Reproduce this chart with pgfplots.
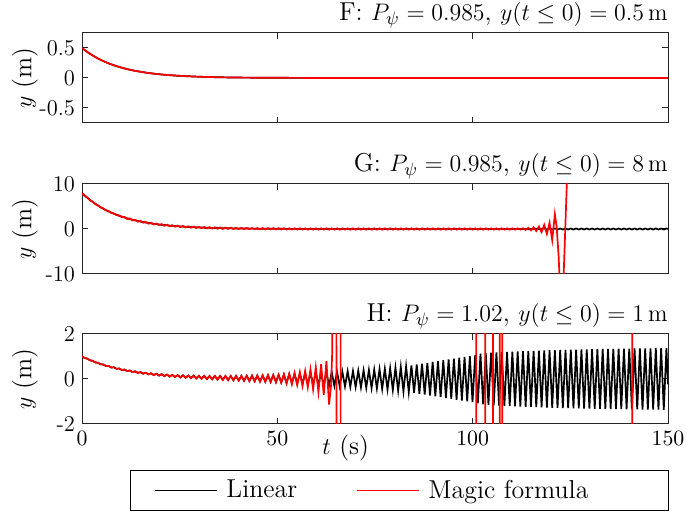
\documentclass[border=0pt]{standalone}
\usepackage{pgfplots}
\pgfplotsset{compat=1.18}
\definecolor{axgray}{RGB}{38,38,38}
\pgfplotsset{
  myax/.style={
    scale only axis, width=293bp, height=45bp,
    xmin=0, xmax=150, xtick={0,50,100,150},
    tick align=inside, tick pos=both,
    major tick length=3bp,
    axis line style={draw=axgray, line width=0.5bp},
    every tick/.style={draw=axgray, line width=0.5bp},
    font=\fontsize{13}{15}\selectfont,
    tick label style={font=\fontsize{11.3}{13}\selectfont},
    every axis title/.style={at={(axis description cs:1,1)}, anchor=south east, inner sep=0pt, yshift=2.1bp},
    ylabel={$y$ (m)},
    ylabel style={at={(axis description cs:-0.0973,0.5)}, anchor=center},
    unbounded coords=jump,
    every axis plot/.append style={line width=0.85bp},
  },
}
\begin{document}
\begin{tikzpicture}
\useasboundingbox (0,0) rectangle (343bp,257bp);
% ---------------- F ----------------
\begin{axis}[myax, at={(41bp,195.5bp)}, anchor=south west,
  ymin=-0.75, ymax=0.75, ytick={-0.5,0,0.5}, yticklabels={-0.5,0,0.5}, xticklabels={},
  title={F: $P_\psi = 0.985$, $y(t \leq 0) = 0.5\,\mathrm{m}$}]
\addplot[black] coordinates {(0,0.5)(1.36,0.433)(2.72,0.376)(4.08,0.325)(5.44,0.282)(6.80,0.244)(8.16,0.212)(9.52,0.184)(10.88,0.159)(12.24,0.138)(13.60,0.119)(14.96,0.104)(16.32,0.090)(17.68,0.078)(19.04,0.067)(20.40,0.058)(21.76,0.051)(23.12,0.044)(24.48,0.038)(25.84,0.033)(27.20,0.029)(28.56,0.025)(29.92,0.021)(32,0.017)(35,0.012)(40,0.007)(50,0.003)(60,0.001)(70,0)(150,0)};
\addplot[red] coordinates {(0,0.5)(1.36,0.433)(2.72,0.376)(4.08,0.325)(5.44,0.282)(6.80,0.244)(8.16,0.212)(9.52,0.184)(10.88,0.159)(12.24,0.138)(13.60,0.119)(14.96,0.104)(16.32,0.090)(17.68,0.078)(19.04,0.067)(20.40,0.058)(21.76,0.051)(23.12,0.044)(24.48,0.038)(25.84,0.033)(27.20,0.029)(28.56,0.025)(29.92,0.021)(32,0.017)(35,0.012)(40,0.007)(50,0.003)(60,0.001)(70,0)(150,0)};
\end{axis}
% ---------------- G ----------------
\begin{axis}[myax, at={(41bp,120bp)}, anchor=south west,
  ymin=-10, ymax=10, ytick={-10,0,10}, yticklabels={-10,0,10}, xticklabels={},
  title={G: $P_\psi = 0.985$, $y(t \leq 0) = 8\,\mathrm{m}$}]
\addplot[black] coordinates {(0,8.000)(1.36,6.933)(2.72,6.008)(4.08,5.207)(5.44,4.512)(6.80,3.910)(8.16,3.389)(9.52,2.937)(10.88,2.545)(12.24,2.206)(13.60,1.911)(14.96,1.656)(16.32,1.435)(17.68,1.244)(19.04,1.078)(20.40,0.934)(21.76,0.810)(23.12,0.701)(24.48,0.608)(25.84,0.527)(27.20,0.456)(28.56,0.395)(29.92,0.343)(31.28,0.297)(32.64,0.257)(34.00,0.223)(35.36,0.193)(36.72,0.167)(38.08,0.145)(39.44,0.126)(40.80,0.109)(42.16,0.094)(43.52,0.082)(44.88,0.071)(46.24,0.061)(47.60,0.053)(50,0.04)(55,0.02)(60,0.01)(70,0)(117.64,0)
(118.32,0.12)(119.00,-0.12)(119.68,0.12)(120.36,-0.12)(121.04,0.12)(121.72,-0.12)(122.40,0.12)(123.08,-0.12)(123.76,0.12)(124.44,-0.12)(125.12,0.12)(125.80,-0.12)(126.48,0.12)(127.16,-0.12)(127.84,0.12)(128.52,-0.12)(129.20,0.12)(129.88,-0.12)(130.56,0.12)(131.24,-0.12)(131.92,0.12)(132.60,-0.12)(133.28,0.12)(133.96,-0.12)(134.64,0.12)(135.32,-0.12)(136.00,0.12)(136.68,-0.12)(137.36,0.12)(138.04,-0.12)(138.72,0.12)(139.40,-0.12)(140.08,0.12)(140.76,-0.12)(141.44,0.12)(142.12,-0.12)(142.80,0.12)(143.48,-0.12)(144.16,0.12)(144.84,-0.12)(145.52,0.12)(146.20,-0.12)(146.88,0.12)(147.56,-0.12)(148.24,0.12)(148.92,-0.12)(149.60,0.12)(150,0)};
\addplot[red] coordinates {(0,8.000)(0.68,7.367)(1.36,7.013)(2.04,6.374)(2.72,6.088)(3.40,5.513)(4.08,5.287)(4.76,4.767)(5.44,4.592)(6.12,4.121)(6.80,3.990)(7.48,3.560)(8.16,3.469)(8.84,3.075)(9.52,3.017)(10.20,2.654)(10.88,2.695)(11.56,2.219)(12.24,2.356)(12.92,1.903)(13.60,2.061)(14.28,1.629)(14.96,1.806)(15.64,1.392)(16.32,1.585)(17.00,1.186)(17.68,1.394)(18.36,1.008)(19.04,1.228)(19.72,0.853)(20.40,1.084)(21.08,0.720)(21.76,0.960)(22.44,0.604)(23.12,0.851)(23.80,0.503)(24.48,0.758)(25.16,0.416)(25.84,0.677)(26.52,0.340)(27.20,0.606)(27.88,0.275)(28.56,0.545)(29.24,0.218)(29.92,0.493)(30.60,0.169)(31.28,0.447)(31.96,0.126)(32.64,0.407)(33.32,0.090)(34.00,0.373)(34.68,0.058)(35.36,0.343)(36.04,0.030)(36.72,0.317)(37.40,0.006)(38.08,0.295)(38.76,-0.015)(39.44,0.276)(40.12,-0.033)(40.80,0.259)(41.48,-0.049)(42.16,0.244)(42.84,-0.062)(43.52,0.232)(44.20,-0.074)(44.88,0.221)(45.56,-0.084)(46.24,0.211)(46.92,-0.093)(47.60,0.203)(48.28,-0.10)(48.96,0.19)(49.64,-0.11)(50.32,0.18)(51.00,-0.12)(51.68,0.175)(52.36,-0.125)(53.04,0.17)(53.72,-0.13)(54.40,0.165)(55.08,-0.135)(55.76,0.16)(56.44,-0.14)(57.12,0.16)
(57.80,-0.15)(58.48,0.15)(59.16,-0.15)(59.84,0.15)(60.52,-0.15)(61.20,0.15)(61.88,-0.15)(62.56,0.15)(63.24,-0.15)(63.92,0.15)(64.60,-0.15)(65.28,0.15)(65.96,-0.15)(66.64,0.15)(67.32,-0.15)(68.00,0.15)(68.68,-0.15)(69.36,0.15)(70.04,-0.15)(70.72,0.15)(71.40,-0.15)(72.08,0.15)(72.76,-0.15)(73.44,0.15)(74.12,-0.15)(74.80,0.15)(75.48,-0.15)(76.16,0.15)(76.84,-0.15)(77.52,0.15)(78.20,-0.15)(78.88,0.15)(79.56,-0.15)(80.24,0.15)(80.92,-0.15)(81.60,0.15)(82.28,-0.15)(82.96,0.15)(83.64,-0.15)(84.32,0.15)(85.00,-0.15)(85.68,0.15)(86.36,-0.15)(87.04,0.15)(87.72,-0.15)(88.40,0.15)(89.08,-0.15)(89.76,0.15)(90.44,-0.15)(91.12,0.15)(91.80,-0.15)(92.48,0.15)(93.16,-0.15)(93.84,0.15)(94.52,-0.15)(95.20,0.15)(95.88,-0.15)(96.56,0.15)(97.24,-0.15)(97.92,0.15)(98.60,-0.15)(99.28,0.15)(99.96,-0.15)(100.64,0.15)(101.32,-0.15)(102.00,0.15)(102.68,-0.15)(103.36,0.15)(104.04,-0.15)(104.72,0.15)(105.40,-0.15)(106.08,0.15)(106.76,-0.15)(107.44,0.15)(108.12,-0.15)(108.80,0.15)(109.48,-0.15)(110.16,0.15)(110.84,-0.15)(111.52,0.15)(112.20,-0.15)
(112.88,0.17)(113.56,-0.20)(114.24,0.25)(114.92,-0.30)(115.60,0.37)(116.28,-0.45)(116.96,0.55)(117.64,-0.70)(118.32,0.90)(119.00,-1.10)(119.68,1.40)(120.36,-2.50)(121.04,3.30)(121.5,0.5)(122.0,-6)(122.4,-14)(122.9,-16)(123.3,-10)(124.1,10)(124.5,18)};
\end{axis}
% ---------------- H ----------------
\begin{axis}[myax, at={(41bp,45bp)}, anchor=south west,
  ymin=-2, ymax=2, ytick={-2,0,2}, yticklabels={-2,0,2},
  xlabel={$t$ (s)},
  xlabel style={at={(axis description cs:0.45,-0.267)}, anchor=center},
  title={H: $P_\psi = 1.02$, $y(t \leq 0) = 1\,\mathrm{m}$},
  legend style={at={(axis description cs:0.0819,-0.511)}, anchor=north west, draw=black, line width=0.5bp,
    inner xsep=0pt, inner ysep=4.7bp, nodes={inner sep=0pt}, column sep=0pt, legend columns=2,
    font=\fontsize{13}{15}\selectfont},
  legend image code/.code={\path[draw=none,fill=none] (0bp,-3bp) rectangle (48bp,3bp); \draw[#1, line width=0.85bp] (12.5bp,0bp) -- (43.5bp,0bp);}]
\addplot[black] coordinates {(0,1.000)(0.68,0.933)(1.36,0.901)(2.04,0.828)(2.72,0.806)(3.40,0.735)(4.08,0.720)(4.76,0.651)(5.44,0.643)(6.12,0.577)(6.80,0.576)(7.48,0.511)(8.16,0.516)(8.84,0.451)(9.52,0.463)(10.20,0.398)(10.88,0.416)(11.56,0.350)(12.24,0.374)(12.92,0.307)(13.60,0.338)(14.28,0.269)(14.96,0.305)(15.64,0.235)(16.32,0.277)(17.00,0.204)(17.68,0.253)(18.36,0.175)(19.04,0.230)(19.72,0.150)(20.40,0.211)(21.08,0.127)(21.76,0.195)(22.44,0.106)(23.12,0.182)(23.80,0.086)(24.48,0.169)(25.16,0.068)(25.84,0.160)(26.52,0.053)(27.20,0.151)(27.88,0.037)(28.56,0.143)(29.24,0.024)(29.92,0.138)(30.60,0.011)(31.28,0.134)(31.96,-0.003)(32.64,0.132)(33.32,-0.015)(34.00,0.131)(34.68,-0.027)(35.36,0.130)(36.04,-0.038)(36.72,0.130)(37.40,-0.049)(38.08,0.131)(38.76,-0.059)(39.44,0.132)(40.12,-0.069)(40.80,0.136)(41.48,-0.080)(42.16,0.140)(42.84,-0.091)(43.52,0.145)(44.20,-0.102)(44.88,0.151)(45.56,-0.113)(46.24,0.156)(46.92,-0.124)(47.60,0.163)(48.28,-0.134)(48.96,0.169)(49.64,-0.144)
(50.32,0.178)(51.00,-0.158)(51.68,0.190)(52.36,-0.175)(53.04,0.204)(53.72,-0.191)(54.40,0.218)(55.08,-0.207)(55.76,0.231)(56.44,-0.223)(57.12,0.245)(57.80,-0.239)(58.48,0.260)(59.16,-0.255)(59.84,0.274)(60.52,-0.275)(61.20,0.281)(61.88,-0.287)(62.56,0.293)(63.24,-0.299)(63.92,0.305)(64.60,-0.311)(65.28,0.318)(65.96,-0.324)(66.64,0.330)(67.32,-0.336)(68.00,0.342)(68.68,-0.348)(69.36,0.354)(70.04,-0.360)(70.72,0.368)(71.40,-0.376)(72.08,0.384)(72.76,-0.392)(73.44,0.400)(74.12,-0.408)(74.80,0.416)(75.48,-0.424)(76.16,0.433)(76.84,-0.445)(77.52,0.457)(78.20,-0.468)(78.88,0.480)(79.56,-0.492)(80.24,0.506)(80.92,-0.522)(81.60,0.538)(82.28,-0.555)(82.96,0.571)(83.64,-0.587)(84.32,0.604)(85.00,-0.620)(85.68,0.639)(86.36,-0.658)(87.04,0.677)(87.72,-0.696)(88.40,0.715)(89.08,-0.734)(89.76,0.753)(90.44,-0.772)(91.12,0.791)(91.80,-0.810)(92.48,0.829)(93.16,-0.848)(93.84,0.868)(94.52,-0.887)(95.20,0.905)(95.88,-0.923)(96.56,0.941)(97.24,-0.958)(97.92,0.976)(98.60,-0.994)(99.28,1.011)(99.96,-1.029)
(100.64,1.059)(101.32,-1.089)(102.00,1.120)(102.68,-1.131)(103.36,1.143)(104.04,-1.154)(104.72,1.165)(105.40,-1.173)(106.08,1.179)(106.76,-1.184)(107.44,1.190)(108.12,-1.195)(108.80,1.200)(109.48,-1.206)(110.16,1.211)(110.84,-1.216)(111.52,1.221)(112.20,-1.225)(112.88,1.230)(113.56,-1.235)(114.24,1.240)(114.92,-1.244)(115.60,1.249)(116.28,-1.254)(116.96,1.259)(117.64,-1.263)(118.32,1.268)(119.00,-1.273)(119.68,1.278)(120.36,-1.281)(121.04,1.284)(121.72,-1.287)(122.40,1.290)(123.08,-1.292)(123.76,1.295)(124.44,-1.298)(125.12,1.300)(125.80,-1.303)(126.48,1.306)(127.16,-1.309)(127.84,1.311)(128.52,-1.314)(129.20,1.317)(129.88,-1.320)(130.56,1.322)(131.24,-1.324)(131.92,1.326)(132.60,-1.328)(133.28,1.330)(133.96,-1.332)(134.64,1.334)(135.32,-1.336)(136.00,1.338)(136.68,-1.340)(137.36,1.342)(138.04,-1.344)(138.72,1.346)(139.40,-1.348)(140.08,1.350)(140.76,-1.352)(141.44,1.353)(142.12,-1.354)(142.80,1.356)(143.48,-1.357)(144.16,1.358)(144.84,-1.360)(145.52,1.361)(146.20,-1.362)(146.88,1.364)(147.56,-1.365)(148.24,1.366)(148.92,-1.368)(149.60,1.369)(150.00,-0.24)};
\addlegendentry{\makebox[53bp][l]{Linear}}
\addplot[red] coordinates {(0,1.000)(0.68,0.933)(1.36,0.901)(2.04,0.828)(2.72,0.806)(3.40,0.735)(4.08,0.720)(4.76,0.651)(5.44,0.643)(6.12,0.577)(6.80,0.576)(7.48,0.511)(8.16,0.516)(8.84,0.451)(9.52,0.463)(10.20,0.398)(10.88,0.416)(11.56,0.350)(12.24,0.374)(12.92,0.307)(13.60,0.338)(14.28,0.269)(14.96,0.305)(15.64,0.235)(16.32,0.277)(17.00,0.204)(17.68,0.253)(18.36,0.175)(19.04,0.230)(19.72,0.150)(20.40,0.211)(21.08,0.127)(21.76,0.195)(22.44,0.106)(23.12,0.182)(23.80,0.086)(24.48,0.169)(25.16,0.068)(25.84,0.160)(26.52,0.053)(27.20,0.151)(27.88,0.037)(28.56,0.143)(29.24,0.024)(29.92,0.138)(30.60,0.011)(31.28,0.134)(31.96,-0.003)(32.64,0.132)(33.32,-0.015)(34.00,0.131)(34.68,-0.027)(35.36,0.130)(36.04,-0.038)(36.72,0.130)(37.40,-0.049)(38.08,0.131)(38.76,-0.059)(39.44,0.132)(40.12,-0.069)(40.80,0.136)(41.48,-0.080)(42.16,0.140)(42.84,-0.091)(43.52,0.145)(44.20,-0.102)(44.88,0.151)(45.56,-0.113)(46.24,0.156)(46.92,-0.124)(47.60,0.163)(48.28,-0.134)(48.96,0.169)(49.64,-0.144)
(50.32,0.184)(51.00,-0.167)(51.68,0.207)(52.36,-0.199)(53.04,0.236)(53.72,-0.230)(54.40,0.270)(55.08,-0.271)(55.76,0.308)(56.44,-0.317)(57.12,0.357)(57.80,-0.373)(58.48,0.427)(59.16,-0.464)(59.84,0.526)(60.52,-0.58)(61.20,0.65)(61.88,-0.72)(62.56,0.79)(63.24,-1.14)(63.75,-0.3)(64.05,1.2)(64.3,200)(65.95,-200)(66.45,200)(66.5,nan)
(100.9,-200)(100.95,200)(101,nan)(103.2,200)(103.25,-200)(103.3,nan)(105.2,-200)(105.25,200)(105.3,nan)(106.9,200)(106.95,-200)(107,nan)(107.55,-200)(107.6,200)(107.7,nan)(140.8,200)(140.85,-200)};
\addlegendentry{\makebox[120bp][l]{Magic formula}}
\end{axis}
\end{tikzpicture}
\end{document}
